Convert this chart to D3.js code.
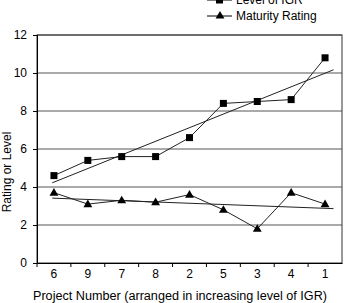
<!DOCTYPE html>
<html>
<head>
<meta charset="utf-8">
<script src="https://cdn.jsdelivr.net/npm/d3@7"></script>
<style>
  body { margin: 0; background: #fff; }
  svg { font-family: "Liberation Sans", Arial, sans-serif; }
</style>
</head>
<body>
<svg id="chart" width="344" height="303"></svg>
<script>
const projects = ['6', '9', '7', '8', '2', '5', '3', '4', '1']
const igrLevel = [4.6, 5.4, 5.6, 5.6, 6.6, 8.4, 8.5, 8.6, 10.8]
const maturityRating = [3.7, 3.1, 3.3, 3.2, 3.6, 2.8, 1.8, 3.7, 3.1]
const yTicks = [0, 2, 4, 6, 8, 10, 12]

const svg = d3.select('#chart')
const plotLeft = 37, plotRight = 342, plotTop = 35, plotBottom = 263
const fontSize = 12

const x = d3.scaleBand().domain(projects).range([plotLeft, plotRight])
const y = d3.scaleLinear().domain([0, 12]).range([plotBottom, plotTop])
const cx = i => x(projects[i]) + x.bandwidth() / 2

// gridlines
svg.append('g').selectAll('line')
    .data(yTicks.filter(d => d > 0))
    .enter().append('line')
    .attr('x1', plotLeft).attr('x2', plotRight)
    .attr('y1', d => y(d)).attr('y2', d => y(d))
    .attr('stroke', '#555').attr('stroke-width', 1)

// plot border
svg.append('rect')
    .attr('x', plotLeft).attr('y', plotTop)
    .attr('width', plotRight - plotLeft).attr('height', plotBottom - plotTop)
    .attr('fill', 'none').attr('stroke', '#333')

// axes
svg.append('g')
    .attr('transform', `translate(${plotLeft},0)`)
    .call(d3.axisLeft(y).tickValues(yTicks).tickSize(4).tickPadding(6))
const xAxis = svg.append('g')
    .attr('transform', `translate(0,${plotBottom})`)
    .call(d3.axisBottom(x).tickSize(0).tickPadding(6))
xAxis.selectAll('.tick').append('line')
    .attr('x1', -x.bandwidth() / 2).attr('x2', -x.bandwidth() / 2)
    .attr('y1', 0).attr('y2', 4).attr('stroke', '#000')
svg.selectAll('.domain').attr('stroke', '#000')
svg.selectAll('.tick text').attr('font-size', fontSize).attr('fill', '#000')
    .attr('font-family', '"Liberation Sans", Arial, sans-serif')

// trend lines (least squares)
function trend (vals) {
    const n = vals.length
    const xs = d3.range(1, n + 1)
    const mx = d3.mean(xs), my = d3.mean(vals)
    const slope = d3.sum(xs, (v, i) => (v - mx) * (vals[i] - my)) / d3.sum(xs, v => (v - mx) ** 2)
    return t => my + slope * (t - mx)
}
const xPos = t => plotLeft + (t - 0.5) * x.bandwidth()

;[igrLevel, maturityRating].forEach(vals => {
    const f = trend(vals)
    const t0 = 0.95, t1 = 9.25
    svg.append('line')
        .attr('x1', xPos(t0)).attr('y1', y(f(t0)))
        .attr('x2', xPos(t1)).attr('y2', y(f(t1)))
        .attr('stroke', '#222').attr('stroke-width', 1)
})

const line = d3.line().x((d, i) => cx(i)).y(d => y(d))

// Level of IGR
svg.append('path').datum(igrLevel)
    .attr('d', line).attr('fill', 'none').attr('stroke', '#222').attr('stroke-width', 1)
svg.append('g').selectAll('rect')
    .data(igrLevel)
    .enter().append('rect')
    .attr('x', (d, i) => cx(i) - 3.5).attr('y', d => y(d) - 3.5)
    .attr('width', 7).attr('height', 7).attr('fill', '#000')

// Maturity Rating
const tri = d3.symbol().type(d3.symbolTriangle).size(34)
svg.append('path').datum(maturityRating)
    .attr('d', line).attr('fill', 'none').attr('stroke', '#222').attr('stroke-width', 1)
svg.append('g').selectAll('path')
    .data(maturityRating)
    .enter().append('path')
    .attr('d', tri)
    .attr('transform', (d, i) => `translate(${cx(i)},${y(d) + 0.5})`)
    .attr('fill', '#000')

// legend
const legend = svg.append('g')
legend.append('line').attr('x1', 207).attr('x2', 232).attr('y1', 0).attr('y2', 0).attr('stroke', '#000')
legend.append('rect').attr('x', 216).attr('y', -3.5).attr('width', 7).attr('height', 7).attr('fill', '#000')
legend.append('text').attr('x', 236).attr('y', 4).attr('font-size', fontSize).text('Level of IGR')
legend.append('line').attr('x1', 207).attr('x2', 232).attr('y1', 16).attr('y2', 16).attr('stroke', '#000')
legend.append('path').attr('d', tri).attr('transform', 'translate(220,16)').attr('fill', '#000')
legend.append('text').attr('x', 236).attr('y', 20).attr('font-size', fontSize).text('Maturity Rating')

// axis titles
svg.append('text')
    .attr('transform', 'translate(11,172) rotate(-90)')
    .attr('text-anchor', 'middle').attr('font-size', fontSize)
    .text('Rating or Level')
svg.append('text')
    .attr('x', 180).attr('y', 299.5)
    .attr('text-anchor', 'middle').attr('font-size', fontSize)
    .attr('textLength', 294).attr('lengthAdjust', 'spacingAndGlyphs')
    .text('Project Number (arranged in increasing level of IGR)')
</script>
</body>
</html>
